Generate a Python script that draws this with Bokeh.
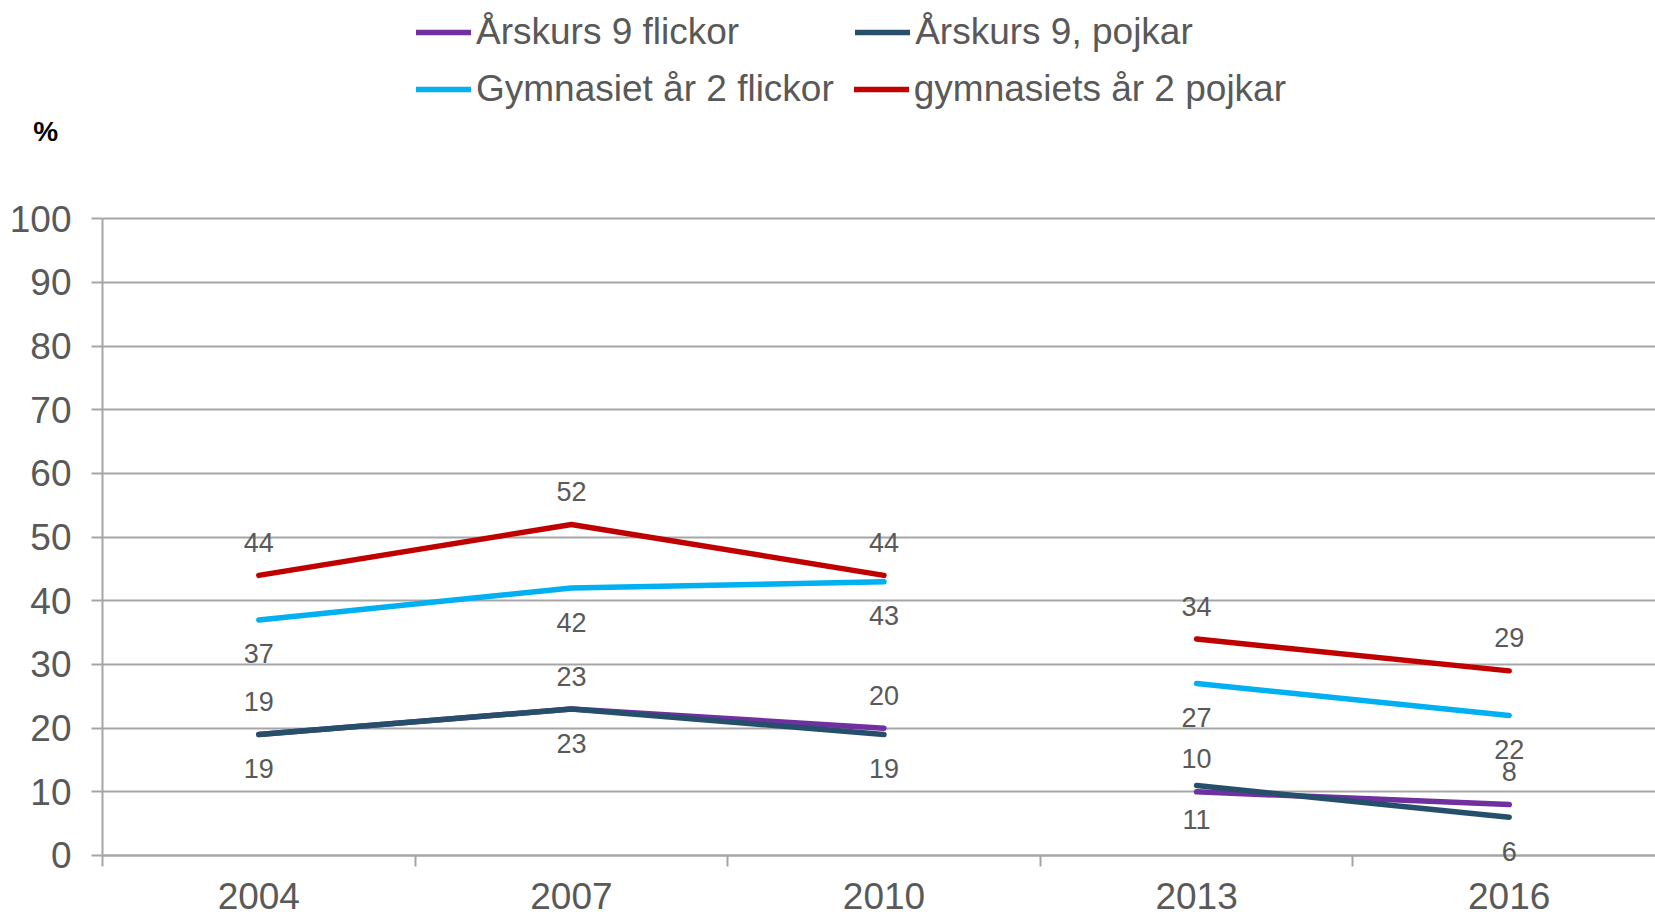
from bokeh.plotting import figure
from bokeh.models import (ColumnDataSource, Range1d, FixedTicker, Legend, LegendItem, LabelSet)
from bokeh.core.properties import value
from bokeh.embed import file_html
from bokeh.resources import INLINE

# ---------------- data ----------------
years = ["2004", "2007", "2010", "2013", "2016"]
ak9_flickor = [19, 23, 20, 10, 8]
ak9_pojkar = [19, 23, 19, 11, 6]
gy2_flickor = [37, 42, 43, 27, 22]
gy2_pojkar = [44, 52, 44, 34, 29]
series_names = ["Årskurs 9 flickor", "Årskurs 9, pojkar", "Gymnasiet år 2 flickor", "gymnasiets år 2 pojkar"]
# line is broken between 2010 and 2013
segments = [(0, 3), (3, 5)]
y_ticks = list(range(0, 101, 10))
unit_label = "%"

# ---------------- style ----------------
FONT = "Liberation Sans"
TXT = "#595959"
GRID = "#A6A6A6"
colors = ["#7030A0", "#264F6B", "#00B0F0", "#C00000"]
label_off = [33, -34, -34, 33]  # above / below point (screen px, LabelSet: positive = up)

xc = [i + 0.5 for i in range(len(years))]

# the frame fills the whole canvas; axes are pinned at x=0 / y=0
p = figure(width=1655, height=917, output_backend="svg", toolbar_location=None,
           x_range=Range1d(-0.3263, 4.968), y_range=Range1d(-9.738, 134.29),
           min_border_left=0, min_border_right=0, min_border_top=0, min_border_bottom=0)
p.outline_line_color = None
p.background_fill_color = "white"
p.border_fill_color = "white"

# grid
p.xgrid.visible = False
p.ygrid.ticker = FixedTicker(ticks=y_ticks)
p.ygrid.grid_line_color = GRID
p.ygrid.grid_line_width = 2
g = p.ygrid[0]
if "cross_bounds" in g.properties():
    g.cross_bounds = (0, 5)

# y axis
p.yaxis.fixed_location = 0
p.yaxis.ticker = FixedTicker(ticks=y_ticks)
p.yaxis.bounds = (0, 100)
p.yaxis.axis_line_color = GRID
p.yaxis.axis_line_width = 2
p.yaxis.major_tick_line_color = GRID
p.yaxis.major_tick_line_width = 2
p.yaxis.major_tick_out = 11
p.yaxis.major_tick_in = 0
p.yaxis.minor_tick_line_color = None
p.yaxis.major_label_text_font = FONT
p.yaxis.major_label_text_font_size = "37px"
p.yaxis.major_label_text_color = TXT
p.yaxis.major_label_standoff = 20

# x axis: labels at category centres, tick marks at boundaries
p.xaxis.fixed_location = 0
p.xaxis.ticker = FixedTicker(ticks=xc, minor_ticks=list(range(len(years) + 1)))
p.xaxis.bounds = (0, 5)
p.xaxis.major_label_overrides = {x: y for x, y in zip(xc, years)}
p.xaxis.axis_line_color = GRID
p.xaxis.axis_line_width = 2
p.xaxis.major_tick_line_color = None
p.xaxis.major_tick_out = 0
p.xaxis.major_tick_in = 0
p.xaxis.minor_tick_line_color = GRID
p.xaxis.minor_tick_line_width = 2
p.xaxis.minor_tick_out = 11
p.xaxis.minor_tick_in = 0
p.xaxis.major_label_text_font = FONT
p.xaxis.major_label_text_font_size = "37px"
p.xaxis.major_label_text_color = TXT
p.xaxis.major_label_standoff = 17

all_series = [ak9_flickor, ak9_pojkar, gy2_flickor, gy2_pojkar]
draw_order = [2, 3, 0, 1]
first_renderer = {}
for si in draw_order:
    vals = all_series[si]
    for (a, b) in segments:
        r = p.line(xc[a:b], vals[a:b], line_color=colors[si], line_width=5.5, line_cap="round", line_join="round")
        first_renderer.setdefault(si, r)

# data labels
lx, ly, lt, lo = [], [], [], []
for si, vals in enumerate(all_series):
    for i, v in enumerate(vals):
        lx.append(xc[i]); ly.append(v); lt.append(str(v)); lo.append(label_off[si])
src = ColumnDataSource(dict(x=lx, y=ly, text=lt, off=lo))
p.add_layout(LabelSet(x="x", y="y", text="text", y_offset="off", source=src, text_align="center",
                      text_baseline="middle", text_font=value(FONT), text_font_size="27px", text_color=TXT))

# legends (two rows)
def make_legend(idx, loc, spacing):
    lg = Legend(items=[LegendItem(label=series_names[i], renderers=[first_renderer[i]]) for i in idx],
                orientation="horizontal", location=loc, spacing=spacing,
                glyph_width=55, glyph_height=20, label_standoff=5, padding=0, margin=0,
                border_line_color=None, background_fill_alpha=0,
                label_text_font=FONT, label_text_font_size="37px", label_text_color=TXT)
    return lg

p.add_layout(make_legend([0, 1], (416, 864), 116), "center")
p.add_layout(make_legend([2, 3], (416, 807), 20), "center")

# unit label "%"
usrc = ColumnDataSource(dict(x=[-0.182], y=[113.7], text=[unit_label]))
p.add_layout(LabelSet(x="x", y="y", text="text", source=usrc, text_align="center", text_baseline="middle",
                      text_font=value(FONT), text_font_size="28px", text_font_style="bold", text_color="black"))

open("out.html", "w").write(file_html(p, INLINE))
